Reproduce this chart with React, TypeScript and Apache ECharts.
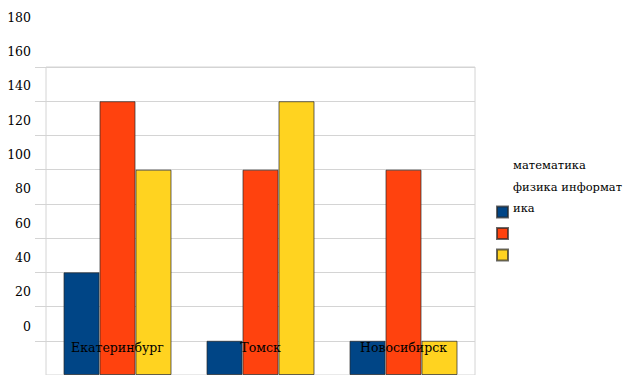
import React, { useEffect, useRef } from "react";
import * as echarts from "echarts";

const categories = ["Екатеринбург", "Томск", "Новосибирск"];
const seriesNames = ["математика", "физика", "информатика"];
const mathValues = [60, 20, 20];
const physicsValues = [160, 120, 120];
const csValues = [120, 160, 20];
const tickLabels = ["0", "20", "40", "60", "80", "100", "120", "140", "160", "180"];
const legendLines = ["математика", "физика информат", "ика"];
const colors = ["#004586", "#ff420e", "#ffd320"];

const FONT = "DejaVu Serif";
const FS = 12.5;
const FS_LEGEND = 11.5;

export default function App() {
  const ref = useRef<HTMLDivElement>(null);
  useEffect(() => {
    if (!ref.current) return;
    const chart = echarts.init(ref.current, null, { renderer: "svg" });
    const values = [mathValues, physicsValues, csValues];
    chart.setOption({
      animation: false,
      backgroundColor: "#ffffff",
      textStyle: { fontFamily: FONT },
      grid: [
        {
          left: 46,
          right: 154,
          top: 67,
          bottom: 0,
          show: true,
          borderColor: "#d4d4d4",
          borderWidth: 1,
          containLabel: false,
          outerBoundsMode: "none",
        },
        {
          left: 46,
          right: 154,
          top: 17,
          bottom: 49,
          show: false,
          containLabel: false,
          outerBoundsMode: "none",
        },
      ],
      legend: {
        orient: "vertical",
        left: 496,
        top: 159,
        padding: 0,
        itemWidth: 11,
        itemHeight: 11,
        itemGap: -44.5,
        icon: "rect",
        formatter: (name: string) =>
          `{t|${legendLines[seriesNames.indexOf(name)]}}\n{s| }`,
        textStyle: {
          fontFamily: FONT,
          fontSize: FS_LEGEND,
          color: "#000",
          rich: {
            t: { fontFamily: FONT, fontSize: FS_LEGEND, lineHeight: 14, color: "#000" },
            s: { fontFamily: FONT, fontSize: FS_LEGEND, lineHeight: 94 },
          },
        },
        data: seriesNames,
      },
      xAxis: [
        {
          type: "category",
          gridIndex: 0,
          data: categories,
          z: 5,
          axisLine: { show: false },
          axisTick: { show: false },
          axisLabel: {
            margin: -34,
            fontFamily: FONT,
            fontSize: FS,
            color: "#000",
          },
        },
        {
          type: "category",
          gridIndex: 1,
          data: categories,
          show: false,
        },
      ],
      yAxis: [
        {
          type: "value",
          gridIndex: 0,
          min: 0,
          max: 180,
          interval: 20,
          axisLine: { show: false },
          axisTick: { show: true, length: 11, lineStyle: { color: "#d4d4d4" } },
          splitLine: { lineStyle: { color: "#d4d4d4" } },
          axisLabel: { show: false },
        },
        {
          type: "value",
          gridIndex: 1,
          min: 0,
          max: 180,
          interval: 20,
          axisLine: { show: false },
          axisTick: { show: false },
          splitLine: { show: false },
          axisLabel: {
            margin: 15,
            fontFamily: FONT,
            fontSize: FS,
            color: "#000",
            formatter: (v: number) => tickLabels[Math.round(v / 20)] ?? String(v),
          },
        },
      ],
      series: seriesNames.map((name, i) => ({
        name,
        type: "bar",
        xAxisIndex: 0,
        yAxisIndex: 0,
        data: values[i],
        barWidth: 36,
        barGap: "0%",
        itemStyle: {
          color: colors[i],
          borderColor: "rgba(40,40,40,0.7)",
          borderWidth: 1,
        },
      })),
    });
    return () => chart.dispose();
  }, []);
  return (
    <div
      ref={ref}
      style={{ position: "absolute", left: 0, top: 0, width: 629, height: 375 }}
    />
  );
}
